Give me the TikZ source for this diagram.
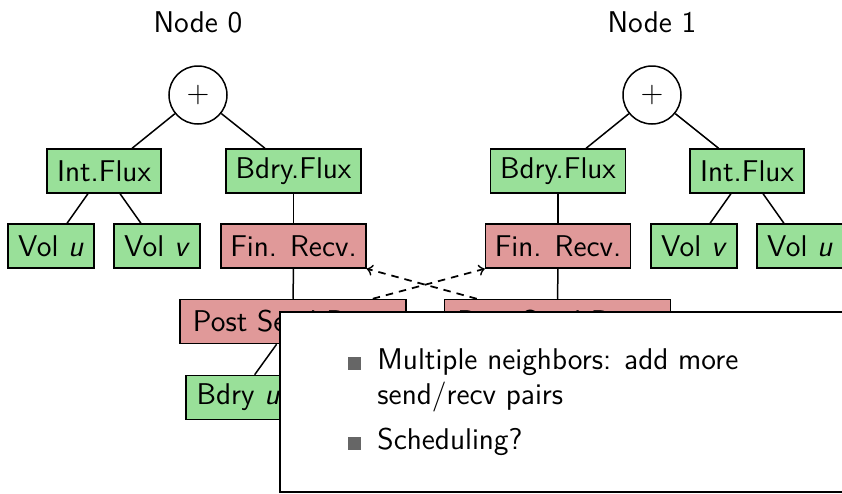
\documentclass[tikz,border=0pt]{standalone}
\usepackage{fontspec}
\usetikzlibrary{calc}
\definecolor{opgreen}{HTML}{99E099}
\definecolor{commred}{HTML}{E09999}
\definecolor{bulletgray}{HTML}{666666}
\begin{document}
\begin{tikzpicture}[x=0.4pt,y=-0.4pt,
  every node/.style={font=\sffamily\fontsize{12pt}{14pt}\selectfont},
  box/.style={draw, line width=0.6pt, minimum height=17.6pt, inner xsep=2.5pt},
  op/.style={box, fill=opgreen},
  comm/.style={box, fill=commred},
  sumnode/.style={draw, circle, line width=0.6pt, minimum size=23.2pt, inner sep=0pt},
  link/.style={line width=0.6pt},
  msg/.style={line width=0.7pt, dash pattern=on 3pt off 2.4pt, ->},
  bulletsq/.style={fill=bulletgray, minimum size=5.2pt, inner sep=0pt},
  itemtext/.style={anchor=base west, inner sep=0pt}]
\clip (0,0) rectangle (842,494);

% ---- node 0 ----
\node (title0) at (198,22) {Node 0};
\node[sumnode] (sum0) at (198,95) {$+$};
\node[op, minimum width=45.6pt] (int0) at (104,171) {Int.Flux};
\node[op, minimum width=54pt] (bf0) at (293.5,171) {Bdry.Flux};
\node[op, minimum width=34.4pt] (volu0) at (51,246) {Vol \textit{u}};
\node[op, minimum width=34.4pt] (volv0) at (157,246) {Vol \textit{v}};
\node[comm, minimum width=58pt] (fr0) at (293.5,246) {Fin. Recv.};
\node[comm, minimum width=90.4pt] (ps0) at (293,321.5) {Post Send Recv.};
\node[op, minimum width=42pt, anchor=west] (bu0) at (185,397.5) {Bdry \textit{u}};

% ---- node 1 ----
\node (title1) at (652,22) {Node 1};
\node[sumnode] (sum1) at (652,95) {$+$};
\node[op, minimum width=54pt] (bf1) at (558,171) {Bdry.Flux};
\node[op, minimum width=45.6pt] (int1) at (747,171) {Int.Flux};
\node[comm, minimum width=58pt] (fr1) at (558,246) {Fin. Recv.};
\node[op, minimum width=34.4pt] (volv1) at (694,246) {Vol \textit{v}};
\node[op, minimum width=34.4pt] (volu1) at (800,246) {Vol \textit{u}};
\node[comm, minimum width=90.4pt] (ps1) at (557.5,321.5) {Post Send Recv.};

% ---- tree edges ----
\draw[link] (sum0) -- (int0);
\draw[link] (sum0) -- (bf0);
\draw[link] (int0) -- (volu0);
\draw[link] (int0) -- (volv0);
\draw[link] (bf0) -- (fr0);
\draw[link] (fr0) -- (ps0);
\draw[link] (ps0) -- (bu0);

\draw[link] (sum1) -- (bf1);
\draw[link] (sum1) -- (int1);
\draw[link] (int1) -- (volv1);
\draw[link] (int1) -- (volu1);
\draw[link] (bf1) -- (fr1);
\draw[link] (fr1) -- (ps1);

% ---- messages between the nodes ----
\draw[msg] ($(ps0.north east)+(-34,0)$) -- (fr1.south west);
\draw[msg] ($(ps1.north west)+(33,0)$) -- (fr0.south east);

% ---- notes panel ----
\draw[line width=0.6pt, fill=white] (280,312) rectangle (870,492);
\node[bulletsq] (b1) at (354.5,363) {};
\node[itemtext] (t1) at (377,369) {Multiple neighbors: add more};
\node[itemtext] (t2) at (377,404) {send/recv pairs};
\node[bulletsq] (b2) at (354.5,443) {};
\node[itemtext] (t3) at (377,449) {Scheduling?};
\end{tikzpicture}
\end{document}
